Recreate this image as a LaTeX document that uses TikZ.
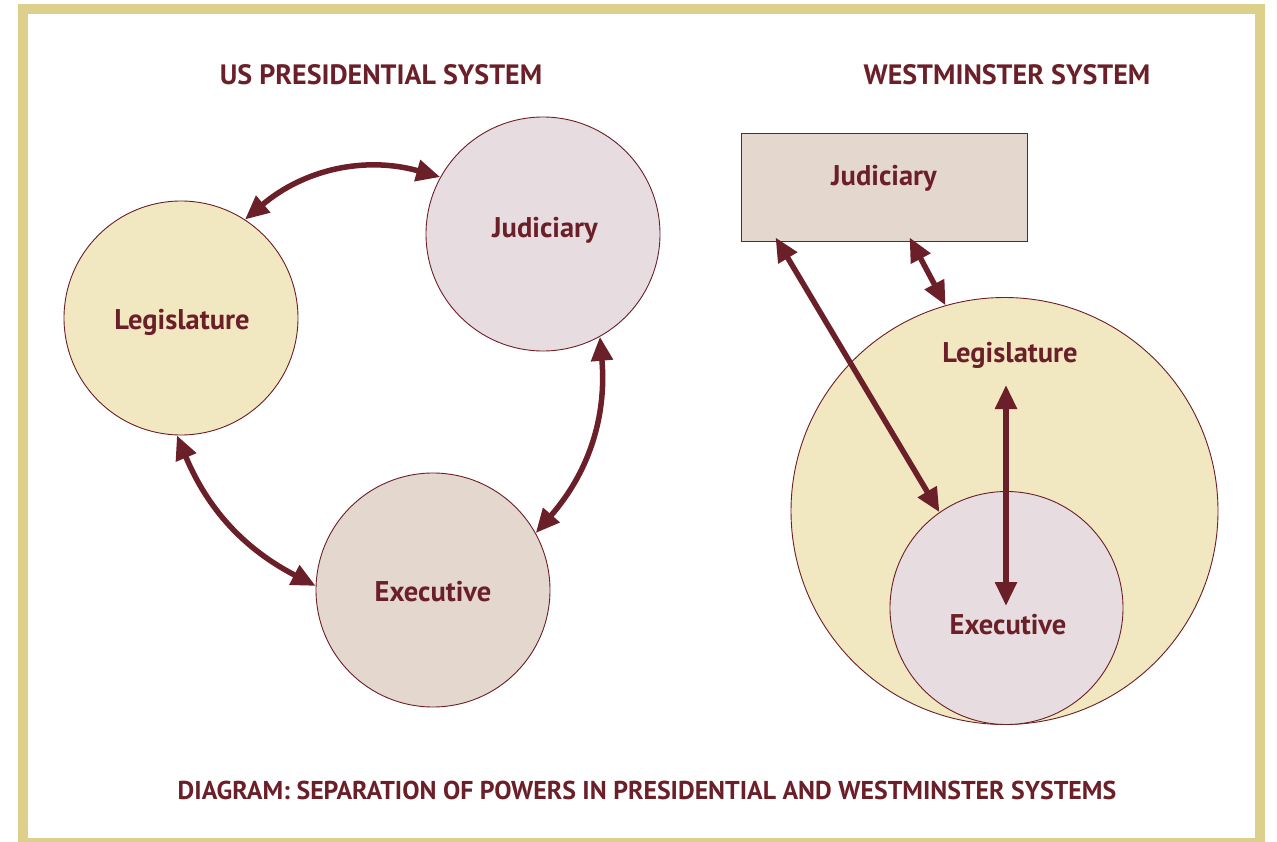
\documentclass[tikz,border=0pt]{standalone}
\usepackage{fontspec}
\setmainfont{PT Sans}
\usetikzlibrary{arrows.meta,calc}
\definecolor{maroon}{HTML}{6B1F29}
\definecolor{framecol}{HTML}{DDD08A}
\definecolor{legfill}{HTML}{F1E7C0}
\definecolor{judfill}{HTML}{E7DCDF}
\definecolor{exefill}{HTML}{E3D7CE}
\tikzset{
  circ/.style={circle, draw=maroon, line width=0.9pt, inner sep=0pt, minimum size=#1},
  lbl/.style={text=maroon, font=\bfseries\fontsize{28.5}{28.5}\selectfont, inner sep=0pt},
  ttl/.style={text=maroon, font=\bfseries\fontsize{28}{28}\selectfont, inner sep=0pt},
  captxt/.style={text=maroon, font=\bfseries\fontsize{25.8}{25.8}\selectfont, inner sep=0pt},
  dbl/.style={draw=maroon, line width=5.5pt,
    {Triangle[length=24pt,width=21pt]}-{Triangle[length=24pt,width=21pt]}},
}
\begin{document}
\begin{tikzpicture}[x=1pt,y=-1pt]
\useasboundingbox (0,0) rectangle (1277,842);
\fill[framecol] (18,4) rectangle (1265,842);
\fill[white] (28,14) rectangle (1255,838);

% titles
\node[ttl] (t1) at (381,75) {US PRESIDENTIAL SYSTEM};
\node[ttl] (t2) at (1007,75) {WESTMINSTER SYSTEM};
\node[captxt] (cap) at (647,790) {DIAGRAM: SEPARATION OF POWERS IN PRESIDENTIAL AND WESTMINSTER SYSTEMS};

% US presidential system
\node[circ=234pt, fill=legfill] (L) at (181,318) {};
\node[circ=234pt, fill=judfill] (J) at (543,234) {};
\node[circ=234pt, fill=exefill] (E) at (433,590) {};
\node[lbl] (Lt) at (182,322) {Legislature};
\node[lbl] (Jt) at (545,230) {Judiciary};
\node[lbl] (Et) at (433,592) {Executive};

\draw[dbl] (L.57) to[bend left=28] (J.151);
\draw[dbl] (J.-61) to[bend left=23] (E.29);
\draw[dbl] (L.-92) to[bend right=20] (E.178);

% Westminster system
\node[draw=maroon, line width=0.9pt, fill=exefill, minimum width=286pt, minimum height=108pt, inner sep=0pt] (R) at (884,187) {};
\node[lbl] (Rt) at (884,178) {Judiciary};
\node[circ=427pt, fill=legfill] (LW) at (1004.5,511) {};
\node[circ=233pt, fill=judfill] (EW) at (1006.5,608) {};
\node[lbl] (LWt) at (1010,355) {Legislature};
\node[lbl] (EWt) at (1008,625) {Executive};

\coordinate (v1) at (1006,385);
\coordinate (v2) at (1006,606);
\draw[dbl] ([xshift=35pt,yshift=4pt]R.south west) -- (EW.125);
\draw[dbl] ([xshift=169pt,yshift=4pt]R.south west) -- (LW.106);
\draw[dbl] (v1) -- (v2);
\end{tikzpicture}
\end{document}
